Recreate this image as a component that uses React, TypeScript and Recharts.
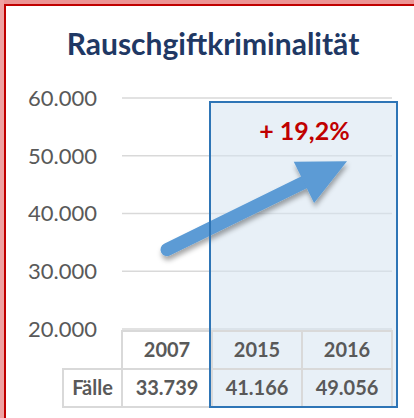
import React from 'react';
import { ComposedChart, Line, XAxis, YAxis, CartesianGrid, ReferenceArea, ReferenceLine } from 'recharts';

const TITLE = 'Rauschgiftkriminalität';
const ROW_LABEL = 'Fälle';
const years = ['2007', '2015', '2016'];
const faelle = [33739, 41166, 49056];
const yTicks = [20000, 30000, 40000, 50000, 60000];
const highlightYears = ['2015', '2016'];
const arrowYears = ['2007', '2016'];

const data = years.map((year, i) => ({ year, faelle: faelle[i] }));
const fmt = (v: number) => String(v).replace(/\B(?=(\d{3})+(?!\d))/g, '.');
const valueOf = (y: string) => faelle[years.indexOf(y)];
const growth = (valueOf(highlightYears[1]) / valueOf(highlightYears[0]) - 1) * 100;
const growthLabel = `+ ${growth.toFixed(1).replace('.', ',')}%`;

const FONT = 'Lato, "Open Sans", sans-serif';
const GRID = '#D9D9D9';
const TEXT = '#595959';
const CELL_W = 90;
const ROW_H = 38;
const LABEL_W = 59;
const ARROW = '#5B9BD5';
const BOX = '#2E75B6';

const TableTick = (props: any) => {
  const { x, y, payload, index } = props;
  const left = x - CELL_W / 2;
  const top = y + 2;
  const txt = { fontFamily: FONT, fontSize: 20, fontWeight: 700, fill: TEXT, textAnchor: 'middle' as const };
  return (
    <g>
      {index === 0 && (
        <g>
          <rect x={left - LABEL_W} y={top + ROW_H} width={LABEL_W} height={ROW_H} fill="none" stroke={GRID} strokeWidth={2} />
          <text x={left - LABEL_W / 2} y={top + ROW_H + 26} {...txt}>{ROW_LABEL}</text>
        </g>
      )}
      <rect x={left} y={top} width={CELL_W} height={ROW_H} fill="none" stroke={GRID} strokeWidth={2} />
      <rect x={left} y={top + ROW_H} width={CELL_W} height={ROW_H} fill="none" stroke={GRID} strokeWidth={2} />
      <text x={x} y={top + 26} {...txt}>{payload.value}</text>
      <text x={x} y={top + ROW_H + 26} {...txt}>{fmt(valueOf(payload.value))}</text>
    </g>
  );
};

const BoxFill = (p: any) => (
  <rect x={p.x - 2} y={p.y + 4} width={p.width + 7} height={p.height + 74} fill="#D6E3F1" fillOpacity={0.55} />
);

const BoxBorder = (p: any) => (
  <g>
    <rect x={p.x - 2} y={p.y + 4} width={p.width + 7} height={p.height + 74} fill="none" stroke={BOX} strokeWidth={2} />
    <text x={p.x + (p.width + 5) / 2} y={p.y + 42} textAnchor="middle" fontFamily={FONT} fontSize={25} fontWeight={700} fill="#C00000">
      {growthLabel}
    </text>
  </g>
);

const Arrow = (p: any) => {
  const { x1, y1, x2, y2 } = p;
  const dx = x2 - x1;
  const dy = y2 - y1;
  const len = Math.hypot(dx, dy) || 1;
  const ux = dx / len;
  const uy = dy / len;
  const nx = -uy;
  const ny = ux;
  const HEAD_L = 48;
  const HEAD_W = 23;
  const bx = x2 - ux * HEAD_L;
  const by = y2 - uy * HEAD_L;
  return (
    <g>
      <defs>
        <filter id="arrowShadow" x="-20%" y="-30%" width="140%" height="170%">
          <feDropShadow dx={1} dy={4} stdDeviation={2.5} floodColor="#000" floodOpacity={0.35} />
        </filter>
      </defs>
      <g filter="url(#arrowShadow)">
        <line x1={x1} y1={y1} x2={bx} y2={by} stroke={ARROW} strokeWidth={13} strokeLinecap="round" />
        <polygon
          points={`${x2},${y2} ${bx + nx * HEAD_W},${by + ny * HEAD_W} ${bx - nx * HEAD_W},${by - ny * HEAD_W}`}
          fill={ARROW}
        />
      </g>
    </g>
  );
};

export default function App() {
  return (
    <div style={{ position: 'absolute', left: 0, top: 0, width: 414, height: 418, background: '#fff', overflow: 'hidden' }}>
      <div style={{ position: 'absolute', left: 0, top: 0, width: 414, height: 4, background: '#EC9494' }} />
      <div style={{ position: 'absolute', left: 0, top: 0, width: 4, height: 418, background: '#EFA2A2' }} />
      <div style={{ position: 'absolute', left: 4, top: 4, width: 410, height: 2, background: '#C00000' }} />
      <div style={{ position: 'absolute', left: 4, top: 4, width: 2, height: 414, background: '#C00000' }} />
      <svg width={414} height={80} style={{ position: 'absolute', left: 0, top: 0 }}>
        <text x={213} y={55} textAnchor="middle" fontFamily={FONT} fontSize={30} fontWeight={700} fill="#1F3864">
          {TITLE}
        </text>
      </svg>
      <div style={{ position: 'absolute', left: 0, top: 0 }}>
        <ComposedChart width={414} height={418} data={data} margin={{ top: 98, right: 22, bottom: 0, left: 0 }}>
          <CartesianGrid vertical={false} stroke={GRID} strokeWidth={1.5} />
          <XAxis
            dataKey="year"
            scale="band"
            height={89}
            axisLine={false}
            tickLine={false}
            tickSize={0}
            tickMargin={0}
            interval={0}
            tick={TableTick}
          />
          <YAxis
            type="number"
            domain={[20000, 60000]}
            ticks={yTicks}
            tickFormatter={fmt}
            axisLine={false}
            tickLine={false}
            width={122}
            tickSize={0}
            tickMargin={25}
            interval={0}
            tick={{ fill: TEXT, fontSize: 22, fontFamily: FONT }}
          />
          <Line dataKey="faelle" stroke="none" dot={false} activeDot={false} isAnimationActive={false} />
          <ReferenceArea x1={highlightYears[0]} x2={highlightYears[1]} ifOverflow="visible" shape={BoxFill} />
          <ReferenceLine
            segment={[
              { x: arrowYears[0], y: valueOf(arrowYears[0]) },
              { x: arrowYears[1], y: valueOf(arrowYears[1]) },
            ]}
            ifOverflow="visible"
            shape={Arrow}
          />
          <ReferenceArea
            x1={highlightYears[0]}
            x2={highlightYears[1]}
            ifOverflow="visible"
            shape={BoxBorder}
            {...({ zIndex: 2000 } as any)}
          />
        </ComposedChart>
      </div>
    </div>
  );
}
